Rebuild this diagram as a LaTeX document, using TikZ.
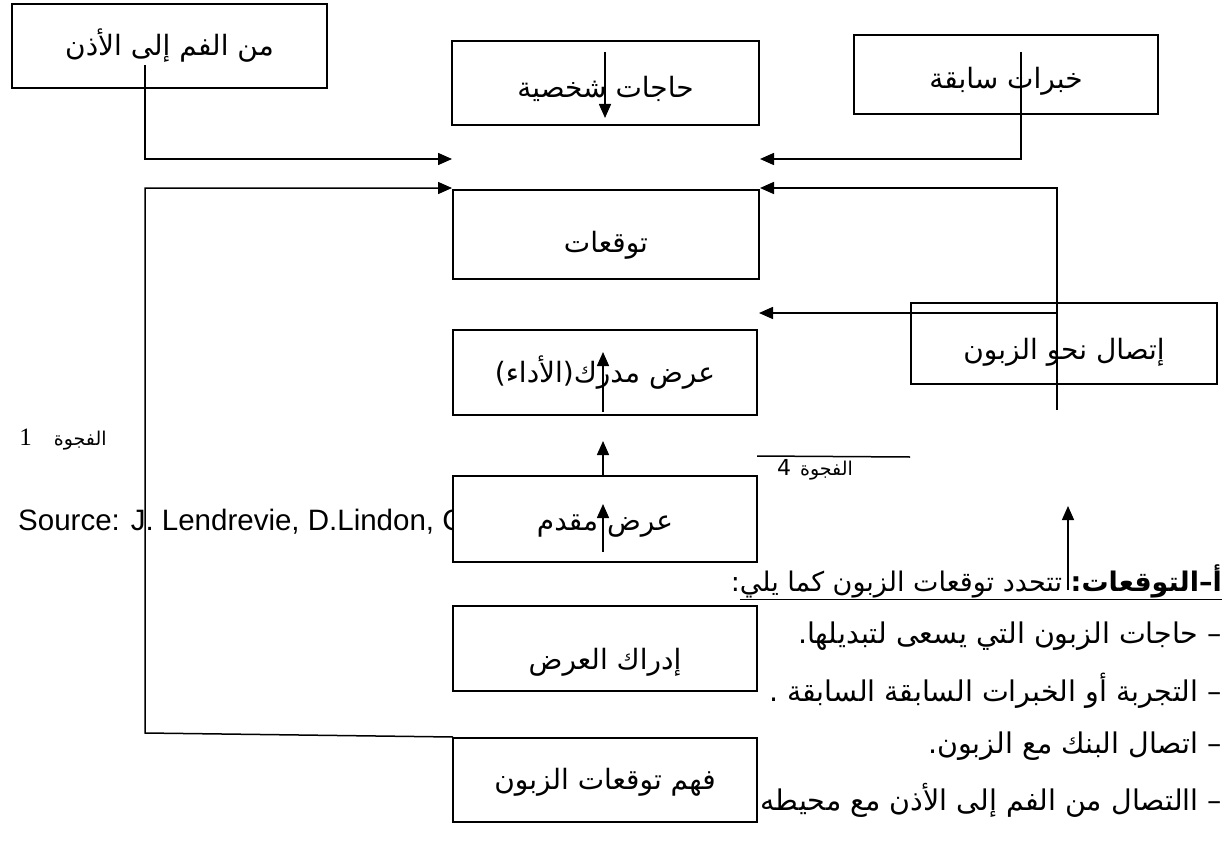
\documentclass[tikz,border=0pt]{standalone}
\usepackage{fontspec}
\setmainfont{Liberation Sans}
\newfontfamily\ar[Script=Arabic]{DejaVu Sans}
\newfontfamily\lserif{Liberation Serif}
\TeXXeTstate=1
\usetikzlibrary{arrows.meta}
\newcommand\AR[2][0pt]{\raisebox{-#1}[\height][\depth]{\ar\beginR #2\endR}}
\tikzset{
  box/.style={draw, line width=1.5pt, fill=white, inner sep=0pt, font=\fontsize{28}{32}\selectfont},
  conn/.style={line width=1.5pt},
  arr/.style={line width=1.5pt, -{Triangle[length=14pt,width=12pt]}},
  txt/.style={inner sep=0pt, font=\fontsize{28.5}{32}\selectfont}
}
\begin{document}
\begin{tikzpicture}[x=1pt,y=-1pt]
\useasboundingbox (0,0) rectangle (1227,843);
% background texts
\node[txt, anchor=west, font=\fontsize{29.5}{33}\selectfont] (src) at (18,522) {Source: J. Lendrevie, D.Lindon, C};
\node[txt, anchor=east, font=\fontsize{27}{31}\selectfont] (head) at (1222,582) {\ar\beginR\underline{\beginR\textbf{أ–التوقعات:}\endR}\underline{\beginR\ تتحدد توقعات الزبون كما يلي\endR}:\endR};
\node[txt, anchor=east] (b1) at (1222,636) {\AR{– حاجات الزبون التي يسعى لتبديلها.}};
\node[txt, anchor=east] (b2) at (1222,691) {\AR{– التجربة أو الخبرات السابقة السابقة .}};
\node[txt, anchor=east] (b3) at (1222,746) {\AR{– اتصال البنك مع الزبون.}};
\node[txt, anchor=east] (b4) at (1222,800) {\AR{– االتصال من الفم إلى الأذن مع محيطه}};
\node[txt] (g1) at (63,440) {\ar\beginR{\fontsize{19}{22}\selectfont الفجوة}\hspace{22pt}{\lserif\fontsize{25}{28}\selectfont 1}\endR};
\node[txt] (g4) at (815,470) {\ar\beginR{\fontsize{19}{22}\selectfont الفجوة} {\fontsize{22}{26}\selectfont 4}\endR};
% boxes
\node[box, minimum width=315pt, minimum height=84pt] (mouth) at (169.5,46) {\AR{من الفم إلى الأذن}};
\node[box, minimum width=307pt, minimum height=84pt] (needs) at (605.5,83) {\AR[6pt]{حاجات شخصية}};
\node[box, minimum width=304pt, minimum height=79pt] (exper) at (1006,74.5) {\AR[7pt]{خبرات سابقة}};
\node[box, minimum width=306pt, minimum height=89pt] (expect) at (606,234.5) {\AR[11pt]{توقعات}};
\node[box, minimum width=306pt, minimum height=81pt] (comm) at (1064,343.5) {\AR[9pt]{إتصال نحو الزبون}};
\node[box, minimum width=304pt, minimum height=85pt] (perc) at (605,372.5) {\AR{عرض مدرك(الأداء)}};
\node[box, minimum width=304pt, minimum height=86pt] (offer) at (605,519) {\AR[7pt]{عرض مقدم}};
\node[box, minimum width=304pt, minimum height=85pt] (percoff) at (605,648.5) {\AR[14pt]{إدراك العرض}};
\node[box, minimum width=304pt, minimum height=84pt] (under) at (605,780) {\AR[2pt]{فهم توقعات الزبون}};
% connector points
\coordinate (m0) at (145,65);
\coordinate (m1) at (452,159);
\coordinate (x0) at (1021,52);
\coordinate (x1) at (760,159);
\coordinate (n0) at (605,52);
\coordinate (n1) at (605,118);
\coordinate (c0) at (1057,410);
\coordinate (c1) at (760,188);
\coordinate (c2) at (1057,313);
\coordinate (c3) at (759,313);
\coordinate (l0) at (453,737);
\coordinate (l1) at (145,733);
\coordinate (l2) at (452,188);
\coordinate (p0) at (603,412);
\coordinate (p1) at (603,352);
\coordinate (o0) at (603,552);
\coordinate (o1) at (603,504);
\coordinate (o2) at (603,441);
\coordinate (r0) at (1068,590);
\coordinate (r1) at (1068,506);
\coordinate (q0) at (757,456);
\coordinate (q1) at (910,457);
% connectors
\draw[arr] (m0) |- (m1);
\draw[arr] (x0) |- (x1);
\draw[arr] (n0) -- (n1);
\draw[arr] (c0) |- (c1);
\draw[arr] (c2) -- (c3);
\draw[arr] (l0) -- (l1) |- (l2);
\draw[arr] (p0) -- (p1);
\draw[arr] (o0) -- (o1);
\draw[arr] (offer.north -| o2) -- (o2);
\draw[arr] (r0) -- (r1);
\draw[conn] (q0) -- (q1);
\end{tikzpicture}
\end{document}
